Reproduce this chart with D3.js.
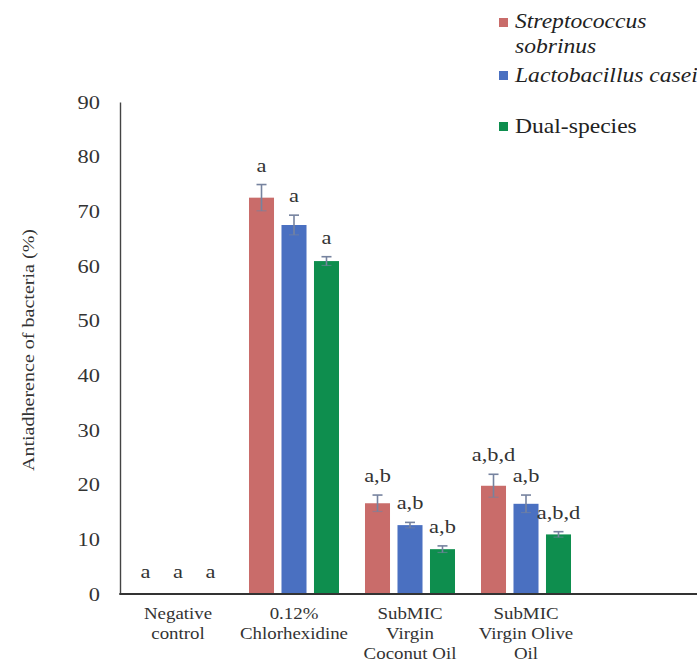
<!DOCTYPE html>
<html>
<head>
<meta charset="utf-8">
<script src="https://cdn.jsdelivr.net/npm/d3@7"></script>
<style>
  html, body { margin: 0; padding: 0; background: #fff; }
  svg { display: block; font-family: "Liberation Serif", "Times New Roman", serif; }
</style>
</head>
<body>
<svg id="chart" width="697" height="662"></svg>
<script>
// Treatment groups (x axis) and bacterial series
const categories = [
  ["Negative", "control"],
  ["0.12%", "Chlorhexidine"],
  ["SubMIC", "Virgin", "Coconut Oil"],
  ["SubMIC", "Virgin Olive", "Oil"]
];
const seriesNames = ["Streptococcus sobrinus", "Lactobacillus casei", "Dual-species"];
const seriesColors = ["#c96c6a", "#4a70c1", "#0e8e4e"];

// Mean antiadherence (%) per group, one array per series
const sobrinusValues = [0, 72.5, 16.6, 19.8];
const caseiValues    = [0, 67.5, 12.6, 16.5];
const dualValues     = [0, 60.9, 8.2, 10.9];

// Standard deviations
const sobrinusErr = [0, 2.4, 1.5, 2.1];
const caseiErr    = [0, 1.8, 0.5, 1.6];
const dualErr     = [0, 0.8, 0.6, 0.5];

// Significance letters
const sobrinusLetters = ["a", "a", "a,b", "a,b,d"];
const caseiLetters    = ["a", "a", "a,b", "a,b"];
const dualLetters     = ["a", "a", "a,b", "a,b,d"];

const yTicks = [0, 10, 20, 30, 40, 50, 60, 70, 80, 90];

const values  = [sobrinusValues, caseiValues, dualValues];
const errs    = [sobrinusErr, caseiErr, dualErr];
const letters = [sobrinusLetters, caseiLetters, dualLetters];

// Text in this figure is set a little wide
const SX = 1.18;

const svg = d3.select("#chart");
const plot = { left: 120, right: 697, top: 102, bottom: 594 };

const x0 = d3.scaleBand()
  .domain(d3.range(categories.length))
  .range([plot.left, plot.left + 116 * categories.length])
  .padding(0);

const x1 = d3.scaleBand()
  .domain(d3.range(seriesNames.length))
  .range([0, x0.bandwidth()])
  .paddingInner(0.23)
  .paddingOuter(0.4);

const y = d3.scaleLinear().domain([0, 90]).range([plot.bottom, plot.top]);

// Places a widened text at (x, y)
function wideText(parent, x, yy, str, size, anchor) {
  return parent.append("text")
    .attr("transform", `translate(${x},${yy}) scale(${SX},1)`)
    .attr("text-anchor", anchor || "middle")
    .attr("font-family", "Liberation Serif, serif")
    .attr("font-size", size)
    .attr("fill", "#333")
    .text(str);
}

// Y axis: labels only with a plain line
const yAxis = svg.append("g")
  .attr("transform", `translate(${plot.left},0)`)
  .call(d3.axisLeft(y).tickValues(yTicks).tickSize(0).tickPadding(17));
yAxis.select(".domain").attr("stroke", "#444").attr("stroke-width", 1.4);
yAxis.selectAll("text")
  .attr("transform", `scale(${SX},1)`)
  .attr("font-family", "Liberation Serif, serif")
  .attr("font-size", 19)
  .attr("fill", "#333");

// Axis title
svg.append("text")
  .attr("transform", `translate(34,${(plot.top + plot.bottom) / 2 + 2}) rotate(-90) scale(${SX},1)`)
  .attr("text-anchor", "middle")
  .attr("font-family", "Liberation Serif, serif")
  .attr("font-size", 17)
  .attr("fill", "#333")
  .text("Antiadherence of bacteria (%)");

// Bars, error bars and letters
const groups = svg.append("g").selectAll("g")
  .data(categories.map((c, i) => i))
  .join("g")
  .attr("transform", i => `translate(${x0(i)},0)`);

const cells = groups.selectAll("g.cell")
  .data(i => seriesNames.map((s, k) => ({ g: i, k, v: values[k][i], e: errs[k][i], t: letters[k][i] })))
  .join("g")
  .attr("class", "cell");

cells.append("rect")
  .attr("x", d => x1(d.k))
  .attr("width", x1.bandwidth())
  .attr("y", d => y(d.v))
  .attr("height", d => y(0) - y(d.v))
  .attr("fill", d => seriesColors[d.k]);

const cx = d => x1(d.k) + x1.bandwidth() / 2;
const withErr = cells.filter(d => d.e > 0);
withErr.append("line")
  .attr("x1", cx).attr("x2", cx)
  .attr("y1", d => y(d.v - d.e))
  .attr("y2", d => y(d.v + d.e))
  .attr("stroke", "#76839f")
  .attr("stroke-width", 1.6);
withErr.append("line")
  .attr("x1", d => cx(d) - 5)
  .attr("x2", d => cx(d) + 5)
  .attr("y1", d => y(d.v + d.e))
  .attr("y2", d => y(d.v + d.e))
  .attr("stroke", "#76839f")
  .attr("stroke-width", 1.6);
withErr.append("line")
  .attr("x1", d => cx(d) - 5)
  .attr("x2", d => cx(d) + 5)
  .attr("y1", d => y(d.v - d.e))
  .attr("y2", d => y(d.v - d.e))
  .attr("stroke", "#76839f")
  .attr("stroke-width", 1.2)
  .attr("opacity", 0.6);

cells.each(function (d) {
  wideText(d3.select(this), cx(d), y(d.v + d.e) - (d.v === 0 ? 16 : 13), d.t, 19);
});

// X axis line
svg.append("line")
  .attr("x1", plot.left - 0.7).attr("x2", plot.right)
  .attr("y1", plot.bottom).attr("y2", plot.bottom)
  .attr("stroke", "#333").attr("stroke-width", 1.8);

// Category labels
const xLabels = svg.append("g");
categories.forEach((lines, i) => {
  lines.forEach((line, j) => {
    wideText(xLabels, x0(i) + x0.bandwidth() / 2, 619 + j * 20, line, 16);
  });
});

// Legend
const legendRows = [
  { k: 0, sq: 18, lines: [{ t: "Streptococcus", y: 28 }, { t: "sobrinus", y: 53 }], italic: true },
  { k: 1, sq: 71, lines: [{ t: "Lactobacillus casei", y: 82 }], italic: true },
  { k: 2, sq: 122, lines: [{ t: "Dual-species", y: 133 }], italic: false }
];
const legend = svg.append("g");
legendRows.forEach(r => {
  legend.append("rect")
    .attr("x", 499).attr("y", r.sq).attr("width", 9).attr("height", 9)
    .attr("fill", seriesColors[r.k]);
  r.lines.forEach(l => {
    wideText(legend, 515, l.y, l.t, 20, "start")
      .attr("font-style", r.italic ? "italic" : "normal")
      .attr("fill", "#222");
  });
});
</script>
</body>
</html>
